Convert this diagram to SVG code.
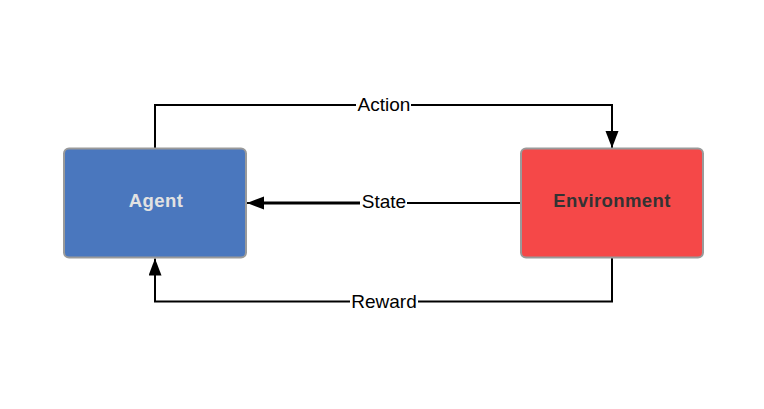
<svg xmlns="http://www.w3.org/2000/svg" width="764" height="409" viewBox="0 0 764 409">
<style>
.node{stroke:#9a9a9a;stroke-width:2}
.ntext{font-family:"Liberation Sans",Arial,sans-serif;font-weight:bold;font-size:18.5px;text-anchor:middle;letter-spacing:0.4px}
.edge{fill:none;stroke:#000;stroke-width:2}
.lbl{font-family:"Liberation Sans",Arial,sans-serif;font-size:19px;text-anchor:middle;fill:#000}
.lblbg{fill:#fff}
</style>
<defs>
<marker id="arr" markerUnits="userSpaceOnUse" markerWidth="18" markerHeight="14" refX="17" refY="6.5" orient="auto">
<path d="M0,0 L17,6.5 L0,13 z" fill="#000"/>
</marker>
</defs>
<rect width="764" height="409" fill="#fff"/>
<g id="connectors">
<g id="edge-action">
<path class="edge" d="M155,148.5 V105 H612 V148" marker-end="url(#arr)"/>
<rect class="lblbg" x="356" y="94" width="55" height="20"/>
<text class="lbl" x="384" y="110.5">Action</text>
</g>
<g id="edge-state">
<path class="edge" d="M521,203 H247" marker-end="url(#arr)"/>
<path class="edge" d="M255,203 H360" style="stroke-width:3"/>
<rect class="lblbg" x="360" y="192" width="47" height="20"/>
<text class="lbl" x="384" y="208">State</text>
</g>
<g id="edge-reward">
<path class="edge" d="M612,258 V301.5 H155 V258.5" marker-end="url(#arr)"/>
<rect class="lblbg" x="350" y="290" width="68" height="20"/>
<text class="lbl" x="384" y="307.5">Reward</text>
</g>
</g>
<g id="agent">
<rect class="node" x="64" y="148.5" width="182" height="109" rx="5" fill="#4a77be"/>
<text class="ntext" x="156" y="207" fill="#e2e2e2">Agent</text>
</g>
<g id="environment">
<rect class="node" x="521" y="148.5" width="182" height="109" rx="5" fill="#f54848"/>
<text class="ntext" x="612" y="207" fill="#333333">Environment</text>
</g>
</svg>
